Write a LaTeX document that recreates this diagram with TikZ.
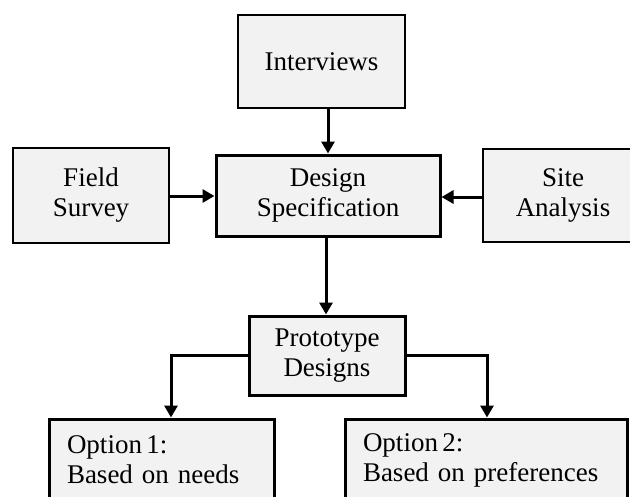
\documentclass[tikz,border=0pt]{standalone}
\usepackage{fontspec}
\setmainfont{Liberation Serif}
\usetikzlibrary{arrows.meta}
\definecolor{boxfill}{HTML}{F2F2F2}
\tikzset{
  x=1pt, y=-1pt,
  basebox/.style={draw=black, fill=boxfill, rectangle, inner sep=0pt, align=center,
    font=\fontsize{27}{30}\selectfont},
  thinbox/.style={basebox, line width=1.5pt},
  thickbox/.style={basebox, line width=3pt},
  optbox/.style={thickbox, align=left, text width=#1, inner xsep=18pt},
  conn/.style={line width=3pt, -{Triangle[width=13pt,length=12pt]}},
}
\begin{document}
\begin{tikzpicture}
\fill[white] (0,0) rectangle (630,496);
\clip (0,0) rectangle (630,496);
\node[thinbox, minimum width=167pt, minimum height=93pt] (int) at (321.5,61.5) {Interviews};
\node[thinbox, minimum width=156pt, minimum height=95pt] (field) at (91,195.5) {Field\\Survey};
\node[thickbox, minimum width=224pt, minimum height=81pt] (des) at (328,195.5) {Design\\Specification};
\node[thinbox, minimum width=160pt, minimum height=93pt] (site) at (563,195.5) {Site\\Analysis};
\node[thickbox, minimum width=156pt, minimum height=79pt] (proto) at (327,355.5) {Prototype\\Designs};
\node[optbox=189pt, minimum width=225pt, minimum height=82pt] (opt1) at (161.5,460) {Option\,1:\\Based on needs};
\node[optbox=246pt, minimum width=282pt, minimum height=82pt] (opt2) at (486,460) {Option\,2:\\Based on preferences};
\coordinate (lc) at (171,355.5);
\coordinate (rc) at (487,355.5);
\draw[conn] (des.north |- int.south) -- (des.north);
\draw[conn] (field.east |- 0,196) -- (des.west |- 0,196);
\draw[conn] (site.west |- 0,197) -- (des.east |- 0,197);
\draw[conn] ([xshift=-2pt]des.south) -- ([xshift=-2pt]des.south |- proto.north);
\draw[conn] (proto.west) -- (lc) -- (lc |- opt1.north);
\draw[conn] (proto.east) -- (rc) -- (rc |- opt2.north);
\end{tikzpicture}
\end{document}
